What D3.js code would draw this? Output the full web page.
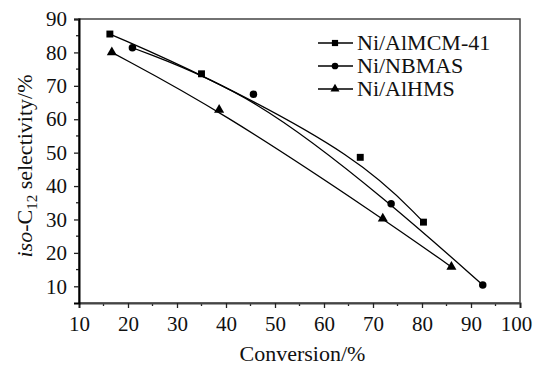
<!DOCTYPE html>
<html>
<head>
<meta charset="utf-8">
<script src="https://cdn.jsdelivr.net/npm/d3@7"></script>
<style>
  body { margin: 0; background: #fff; }
  svg text { font-family: "Liberation Serif", "Times New Roman", serif; fill: #111; }
</style>
</head>
<body>
<div id="chart"></div>
<script>
// data
var mcmX = [16.3, 35.0, 67.4, 80.3];
var mcmY = [85.5, 73.6, 48.6, 29.2];
var nbmasX = [20.9, 45.6, 73.7, 92.4];
var nbmasY = [81.4, 67.5, 34.7, 10.4];
var hmsX = [16.7, 38.6, 72.0, 86.0];
var hmsY = [80.0, 62.8, 30.3, 15.8];
var seriesNames = ["Ni/AlMCM-41", "Ni/NBMAS", "Ni/AlHMS"];
var xTicks = [10, 20, 30, 40, 50, 60, 70, 80, 90, 100];
var yTicks = [10, 20, 30, 40, 50, 60, 70, 80, 90];

var width = 533, height = 365;
var margin = {left: 79, right: 13, top: 19, bottom: 62};

var svg = d3.select("#chart").append("svg")
  .attr("width", width).attr("height", height);

var x = d3.scaleLinear().domain([10, 100]).range([margin.left, width - margin.right]);
var y = d3.scaleLinear().domain([5, 90]).range([height - margin.bottom, margin.top]);

// frame
svg.append("rect")
  .attr("x", x(10)).attr("y", y(90))
  .attr("width", x(100) - x(10)).attr("height", y(5) - y(90))
  .style("fill", "none").style("stroke", "#444").style("stroke-width", 1.5);

// minor ticks
var xMinor = d3.range(15, 100, 10);
var yMinor = d3.range(15, 90, 10);
svg.append("g").selectAll("line").data(xMinor).enter().append("line")
  .attr("x1", function (d) { return x(d); }).attr("x2", function (d) { return x(d); })
  .attr("y1", y(5)).attr("y2", y(5) + 3)
  .style("stroke", "#222").style("stroke-width", 1.3);
svg.append("g").selectAll("line").data(yMinor).enter().append("line")
  .attr("y1", function (d) { return y(d); }).attr("y2", function (d) { return y(d); })
  .attr("x1", x(10)).attr("x2", x(10) - 3)
  .style("stroke", "#222").style("stroke-width", 1.3);

var xAxis = svg.append("g")
  .attr("transform", "translate(0," + y(5) + ")")
  .call(d3.axisBottom(x).tickValues(xTicks).tickSize(5).tickPadding(8));
var yAxis = svg.append("g")
  .attr("transform", "translate(" + x(10) + ",0)")
  .call(d3.axisLeft(y).tickValues(yTicks).tickSize(5).tickPadding(7));

xAxis.attr("font-family", null).attr("font-size", null);
yAxis.attr("font-family", null).attr("font-size", null);
xAxis.select(".domain").style("stroke", "#444").style("stroke-width", 2);
yAxis.select(".domain").style("stroke", "#000").style("stroke-width", 2);
svg.selectAll(".tick line").style("stroke", "#222").style("stroke-width", 1.3);
svg.selectAll(".tick text").style("font-size", "21px");
// last label sits against the page edge, pull it in a little
xAxis.selectAll(".tick text").filter(function (d) { return d === 100; }).attr("dx", -4);

// axis titles
svg.append("text")
  .attr("x", (x(10) + x(100)) / 2 + 3).attr("y", 361)
  .attr("text-anchor", "middle")
  .style("font-size", "22px")
  .text("Conversion/%");

var yl = svg.append("text")
  .attr("transform", "translate(32,166) rotate(-90)")
  .attr("text-anchor", "middle")
  .style("font-size", "22px");
yl.append("tspan").style("font-style", "italic").text("iso");
yl.append("tspan").text("-C");
yl.append("tspan").attr("dy", 5).style("font-size", "15px").text("12");
yl.append("tspan").attr("dy", -5).text(" selectivity/%");

// series
function pts(xs, ys) {
  return xs.map(function (d, i) { return [d, ys[i]]; });
}
var series = [
  {name: seriesNames[0], data: pts(mcmX, mcmY), sym: d3.symbolSquare, size: 48},
  {name: seriesNames[1], data: pts(nbmasX, nbmasY), sym: d3.symbolCircle, size: 44},
  {name: seriesNames[2], data: pts(hmsX, hmsY), sym: d3.symbolTriangle, size: 44}
];

var line = d3.line()
  .x(function (d) { return x(d[0]); })
  .y(function (d) { return y(d[1]); })
  .curve(d3.curveBasis);

series.forEach(function (s) {
  svg.append("path")
    .datum(s.data)
    .attr("d", line)
    .style("fill", "none").style("stroke", "#000").style("stroke-width", 1.3);
  svg.append("g").selectAll("path").data(s.data).enter().append("path")
    .attr("d", d3.symbol().type(s.sym).size(s.size))
    .attr("transform", function (d) { return "translate(" + x(d[0]) + "," + y(d[1]) + ")"; })
    .style("fill", "#000");
});

// legend
var legend = svg.append("g").attr("transform", "translate(318,43)");
series.forEach(function (s, i) {
  var g = legend.append("g").attr("transform", "translate(0," + (i * 23) + ")");
  g.append("line").attr("x1", 0).attr("x2", 35).attr("y1", 0).attr("y2", 0)
    .style("stroke", "#000").style("stroke-width", 1.4);
  g.append("path").attr("d", d3.symbol().type(s.sym).size(s.size * 0.8))
    .attr("transform", "translate(17,0)").style("fill", "#000");
  g.append("text").attr("x", 39).attr("y", 7)
    .style("font-size", "22px").text(s.name);
});
</script>
</body>
</html>
